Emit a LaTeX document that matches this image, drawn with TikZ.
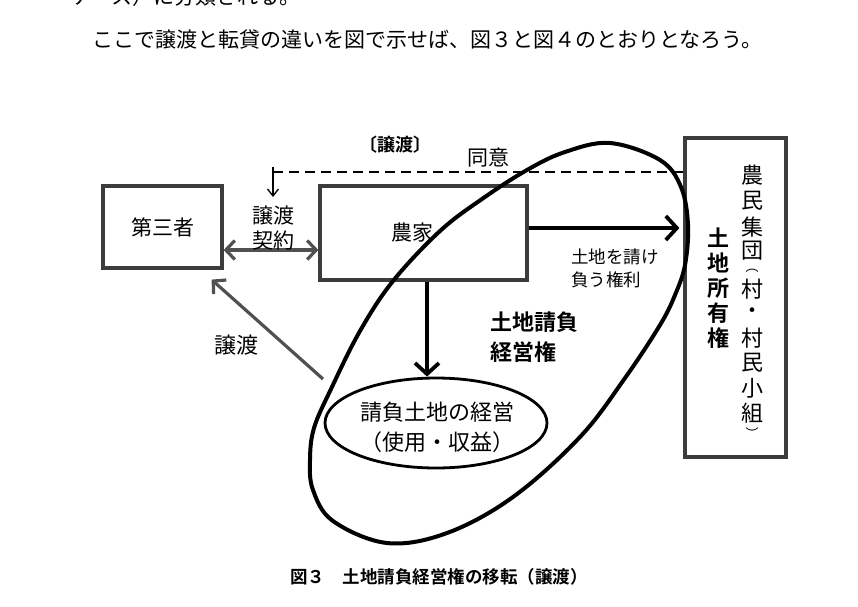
\documentclass[tikz,border=0pt]{standalone}
\usepackage{fontspec}
\setmainfont{Noto Sans CJK JP}[BoldFont={Noto Sans CJK JP Bold}]
\usepackage{tikz}
\usetikzlibrary{arrows.meta,positioning,calc,shapes.geometric}
\definecolor{BoxGray}{RGB}{60,60,60}
\definecolor{ArrowGray}{RGB}{80,80,80}
\newcommand{\fsz}[2]{\fontsize{#1}{#2}\selectfont}
\tikzset{
  gtip/.tip={Straight Barb[length=9pt,width=19pt]},
  btip/.tip={Straight Barb[length=11pt,width=24pt]},
  stip/.tip={Straight Barb[length=7pt,width=11pt]}
}

\begin{document}
\begin{tikzpicture}[x=1pt,y=-1pt,
  box/.style={draw=BoxGray,line width=3.2pt,inner sep=0pt},
  grayarr/.style={ArrowGray,line width=3.2pt},
  blackarr/.style={black,line width=3.8pt,-btip},
  lbl/.style={font=\fsz{21}{25},inner sep=0pt}
]
\useasboundingbox (0,0) rectangle (858,606);
% running text of the page
\node[lbl,anchor=west] (prevline) at (70,-3) {ケース）に分類される。};
\node[lbl,anchor=west] (textline) at (92,40) {ここで譲渡と転貸の違いを図で示せば、図３と図４のとおりとなろう。};

% boxes
\node[box,lbl,minimum width=119pt,minimum height=82pt] (third) at (162.5,227) {第三者};
\node[box,lbl,minimum width=207pt,minimum height=94pt] (farm) at (423.5,233) {\hspace*{-22pt}農家};
\node[box,minimum width=101pt,minimum height=319pt] (village) at (735.5,297.5) {};
\node[draw,ellipse,line width=2.8pt,minimum width=222pt,minimum height=90pt,inner sep=0pt] (manage) at (436,423) {};
\node[lbl,font=\fsz{22}{30},align=left,anchor=west] (managetxt) at (360,427) {請負土地の経営\\（使用・収益）};

% vertical texts in the right box
\foreach \c/\yy/\fs [count=\i] in {農/175/22,民/201/22,集/227/22,団/251/22,︵/271/13,村/289/22,・/313/22,
  村/338/22,民/363/22,小/388/22,組/413/22,︶/433/13}{
  \node[lbl,font=\fsz{\fs}{25}] (vil\i) at (752,\yy) {\c};
}
\foreach \c [count=\i] in {土,地,所,有,権}{
  \node[lbl,font=\bfseries\fsz{22}{25}] (own\i) at (718,213+25*\i) {\c};
}

% the big loop
\draw[line width=4pt] plot[smooth cycle,tension=0.6] coordinates {
  (610,143) (660,160) (681,187) (688,225) (685,265) (675,295) (660,325)
  (625,378) (580,437) (513,497) (447,533) (387,543) (333,521) (313,490)
  (310,460) (314,428) (331,389) (360,331) (393,281) (440,231) (482,199)
  (527,170) (565,152)};

% connectors
\coordinate (agreeR) at (village.west |- 0,172);
\coordinate (agreeL) at (273,172);
\coordinate (agreeT) at (273,167);
\coordinate (agreeB) at (273,197);
\draw[line width=1.3pt,dash pattern=on 10pt off 6pt] (agreeR) -- (agreeL);
\draw[line width=1.3pt,-stip] (agreeT) -- (agreeB);

\draw[grayarr,gtip-gtip] (third.east |- 0,250) -- (farm.west |- 0,250);
\draw[blackarr] (farm.east |- 0,228) -- ($(village.west |- 0,228)+(-4,0)$);
\coordinate (downx) at (427,0);
\draw[blackarr] (farm.south -| downx) -- (manage.north -| downx);
\coordinate (sellS) at (323,379);
\coordinate (sellE) at ($(third.south east)+(-12,10)$);
\draw[grayarr,-gtip] (sellS) -- (sellE);

% labels
\node[lbl,font=\bfseries\fsz{18}{22}] (kind) at (395,145) {〔譲渡〕};
\node[lbl,font=\fsz{21}{25}] (agree) at (488,158) {同意};
\node[lbl,font=\fsz{21}{25},align=center] (contract) at (273,228) {譲渡\\契約};
\node[lbl,font=\fsz{17.5}{23},align=left,anchor=west] (right) at (571,268) {土地を請け\\負う権利};
\node[lbl,font=\bfseries\fsz{22}{30},align=left,anchor=west] (usufruct) at (490,337) {土地請負\\経営権};
\node[lbl,font=\fsz{22}{25}] (sell) at (236,345) {譲渡};

% caption
\node[lbl,font=\bfseries\fsz{17.5}{22}] (caption) at (439,577) {図３　土地請負経営権の移転（譲渡）};
\end{tikzpicture}
\end{document}
